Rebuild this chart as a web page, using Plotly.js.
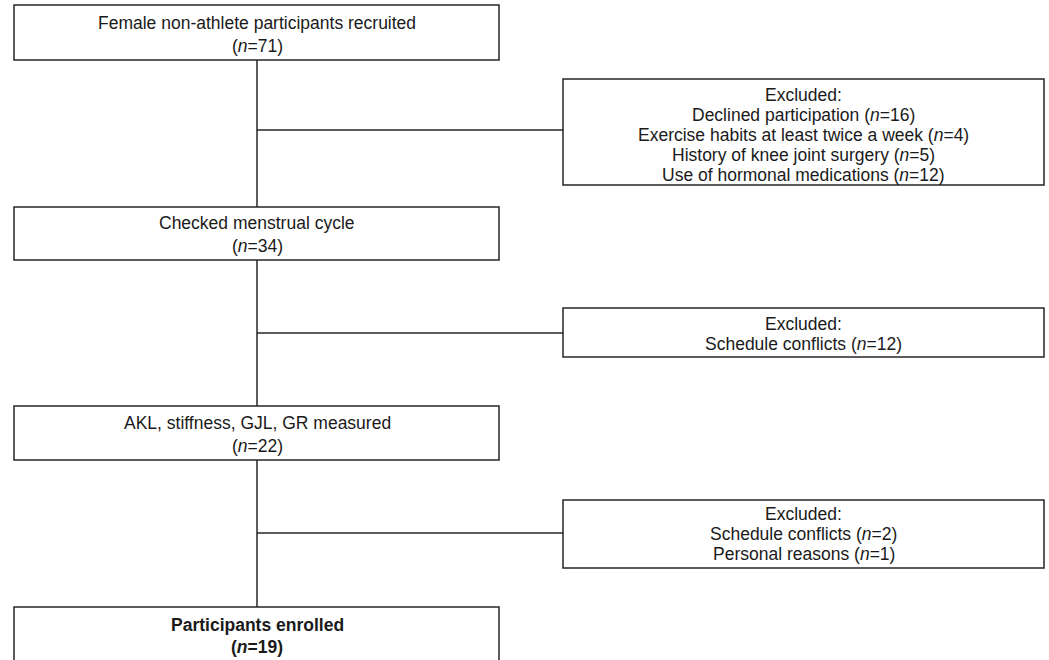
<!DOCTYPE html>
<html>
<head>
<meta charset="utf-8">
<script src="https://cdn.plot.ly/plotly-3.0.1.min.js"></script>
<style>html,body{margin:0;padding:0;background:#fff;}#chart{width:1049px;height:660px;}</style>
</head>
<body>
<div id="chart"></div>
<script>
// ---- Data ----
var stageLabels = [
  "Female non-athlete participants recruited",
  "Checked menstrual cycle",
  "AKL, stiffness, GJL, GR measured",
  "Participants enrolled"
];
var stageCounts = [71, 34, 22, 19];

var excludedReasons1 = ["Declined participation", "Exercise habits at least twice a week", "History of knee joint surgery", "Use of hormonal medications"];
var excludedCounts1 = [16, 4, 5, 12];
var excludedReasons2 = ["Schedule conflicts"];
var excludedCounts2 = [12];
var excludedReasons3 = ["Schedule conflicts", "Personal reasons"];
var excludedCounts3 = [2, 1];

// ---- Layout (pixel geometry) ----
var W = 1049, H = 660;
var mainBox = {x0: 14, x1: 499};
var mainCx = 257;
var mainY = [[5, 60], [207, 260], [406, 460], [607, 700]];
var mainTextY = [34.5, 234.5, 434.5, 636];
var mainLineGap = 22.5;
var exBox = {x0: 563, x1: 1044};
var exY = [[79, 185], [308, 357], [500, 568]];
var exTextY = [135, 334, 534];
var exLineGap = 19.8;
var connY = [130, 333, 533];

var lineColor = "#262626";
var lw = 1.5;
var fontSpec = {family: "Liberation Sans, Arial, sans-serif", size: 17.5, color: "#1a1a1a"};
var shapes = [];
var annotations = [];

function nText(n) {
  return "(<i>n</i>=" + n + ")";
}

function addLines(lines, cx, cy, gap) {
  var start = cy - gap * (lines.length - 1) / 2;
  lines.forEach(function (t, k) {
    annotations.push({x: cx, y: start + gap * k, xref: "x", yref: "y", text: t, showarrow: false,
      xanchor: "center", yanchor: "middle", align: "center", font: fontSpec});
  });
}

// vertical trunk
shapes.push({type: "line", xref: "x", yref: "y", x0: mainCx, x1: mainCx, y0: mainY[0][1], y1: mainY[3][0], line: {color: lineColor, width: lw}});

// main boxes
stageLabels.forEach(function (lab, i) {
  shapes.push({type: "rect", xref: "x", yref: "y", x0: mainBox.x0, x1: mainBox.x1, y0: mainY[i][0], y1: mainY[i][1],
    line: {color: lineColor, width: lw}, fillcolor: "#ffffff"});
  var last = i === stageLabels.length - 1;
  var lines = last ? ["<b>" + lab + "</b>", "<b>" + nText(stageCounts[i]) + "</b>"] : [lab, nText(stageCounts[i])];
  addLines(lines, mainCx, mainTextY[i], mainLineGap);
});

// excluded boxes
var exGroups = [[excludedReasons1, excludedCounts1], [excludedReasons2, excludedCounts2], [excludedReasons3, excludedCounts3]];
exGroups.forEach(function (g, i) {
  shapes.push({type: "line", xref: "x", yref: "y", x0: mainCx, x1: exBox.x0, y0: connY[i], y1: connY[i], line: {color: lineColor, width: lw}});
  shapes.push({type: "rect", xref: "x", yref: "y", x0: exBox.x0, x1: exBox.x1, y0: exY[i][0], y1: exY[i][1],
    line: {color: lineColor, width: lw}, fillcolor: "#ffffff"});
  var lines = ["Excluded:"];
  g[0].forEach(function (r, k) { lines.push(r + " " + nText(g[1][k])); });
  addLines(lines, (exBox.x0 + exBox.x1) / 2, exTextY[i], exLineGap);
});

var layout = {
  width: W, height: H,
  margin: {l: 0, r: 0, t: 0, b: 0},
  paper_bgcolor: "#ffffff", plot_bgcolor: "#ffffff",
  xaxis: {range: [0, W], visible: false, fixedrange: true},
  yaxis: {range: [H, 0], visible: false, fixedrange: true},
  shapes: shapes,
  annotations: annotations,
  showlegend: false
};

Plotly.newPlot("chart", [], layout, {displayModeBar: false, staticPlot: true});
</script>
</body>
</html>
